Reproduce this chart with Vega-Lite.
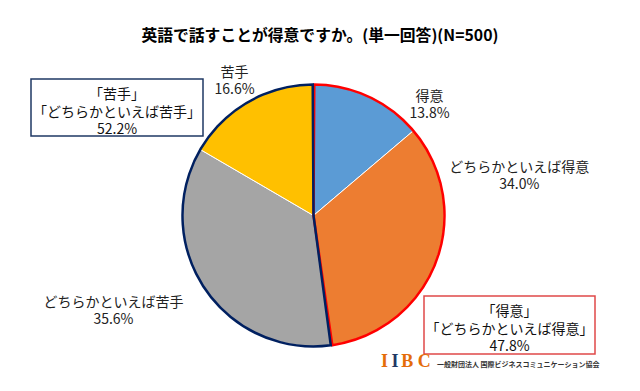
{
  "$schema": "https://vega.github.io/schema/vega-lite/v6.json",
  "background": "white",
  "padding": {"left": 30, "top": 28, "right": 10, "bottom": 8},
  "bounds": "flush",
  "spacing": 0,
  "title": {"text": "英語で話すことが得意ですか。(単一回答)(N=500)", "font": "Noto Sans CJK JP", "fontSize": 15.8, "fontWeight": "bold", "color": "#000000", "anchor": "middle", "offset": 21, "dx": 5},
  "config": {"view": {"stroke": null}, "font": "Noto Sans CJK JP"},
  "datasets": {
    "slices": [
      {"category": "得意", "value": 13.8, "order": 1, "label": "得意\n13.8%"},
      {"category": "どちらかといえば得意", "value": 34.0, "order": 2, "label": "どちらかといえば得意\n34.0%"},
      {"category": "どちらかといえば苦手", "value": 35.6, "order": 3, "label": "どちらかといえば苦手\n35.6%"},
      {"category": "苦手", "value": 16.6, "order": 4, "label": "苦手\n16.6%"}
    ],
    "groups": [
      {"group": "「得意」「どちらかといえば得意」", "value": 47.8, "order": 1},
      {"group": "「苦手」「どちらかといえば苦手」", "value": 52.2, "order": 2}
    ]
  },
  "hconcat": [
    {
      "width": 172,
      "height": 57,
      "view": {"stroke": "#1F3864", "strokeWidth": 1.5},
      "data": {"values": [{"text": "「苦手」\n「どちらかといえば苦手」\n52.2%"}]},
      "mark": {"type": "text", "fontSize": 14, "lineBreak": "\n", "lineHeight": 17.5, "baseline": "middle", "align": "center", "color": "#111111", "dy": -12.5},
      "encoding": {"text": {"field": "text", "type": "nominal"}}
    },
    {
      "width": 221,
      "height": 273,
      "layer": [
        {
          "data": {"name": "slices"},
          "mark": {"type": "arc", "outerRadius": 131, "stroke": "#ffffff", "strokeWidth": 1},
          "encoding": {
            "theta": {"field": "value", "type": "quantitative", "stack": true},
            "order": {"field": "order", "type": "quantitative"},
            "color": {"field": "category", "type": "nominal", "legend": null,
              "scale": {"domain": ["得意", "どちらかといえば得意", "どちらかといえば苦手", "苦手"], "range": ["#5B9BD5", "#ED7D31", "#A5A5A5", "#FFC000"]}}
          }
        },
        {
          "data": {"name": "groups"},
          "mark": {"type": "arc", "outerRadius": 131, "filled": false, "strokeWidth": 2.5, "padAngle": 0.012},
          "encoding": {
            "theta": {"field": "value", "type": "quantitative", "stack": true},
            "order": {"field": "order", "type": "quantitative"},
            "stroke": {"field": "group", "type": "nominal", "legend": null,
              "scale": {"domain": ["「得意」「どちらかといえば得意」", "「苦手」「どちらかといえば苦手」"], "range": ["#FF0000", "#002060"]}}
          }
        },
        {
          "data": {"name": "slices"},
          "transform": [{"stack": "value", "groupby": [], "sort": [{"field": "order", "order": "ascending"}], "as": ["v0", "v1"]}, {"filter": "datum.order === 1"}],
          "mark": {"type": "text", "radius": 150, "dx": 116, "dy": 31.5, "fontSize": 14, "lineBreak": "\n", "lineHeight": 17, "align": "center", "baseline": "middle", "color": "#222222"},
          "encoding": {
            "theta": {"field": "v0", "type": "quantitative", "stack": null},
            "text": {"field": "label", "type": "nominal"}
          }
        },
        {
          "data": {"name": "slices"},
          "transform": [{"stack": "value", "groupby": [], "sort": [{"field": "order", "order": "ascending"}], "as": ["v0", "v1"]}, {"filter": "datum.order === 2"}],
          "mark": {"type": "text", "radius": 150, "dx": 91.5, "dy": 49.25, "fontSize": 14, "lineBreak": "\n", "lineHeight": 17, "align": "center", "baseline": "middle", "color": "#222222"},
          "encoding": {
            "theta": {"field": "v0", "type": "quantitative", "stack": null},
            "text": {"field": "label", "type": "nominal"}
          }
        },
        {
          "data": {"name": "slices"},
          "transform": [{"stack": "value", "groupby": [], "sort": [{"field": "order", "order": "ascending"}], "as": ["v0", "v1"]}, {"filter": "datum.order === 3"}],
          "mark": {"type": "text", "radius": 150, "dx": -220.7, "dy": -61.25, "fontSize": 14, "lineBreak": "\n", "lineHeight": 17, "align": "center", "baseline": "middle", "color": "#222222"},
          "encoding": {
            "theta": {"field": "v0", "type": "quantitative", "stack": null},
            "text": {"field": "label", "type": "nominal"}
          }
        },
        {
          "data": {"name": "slices"},
          "transform": [{"stack": "value", "groupby": [], "sort": [{"field": "order", "order": "ascending"}], "as": ["v0", "v1"]}, {"filter": "datum.order === 4"}],
          "mark": {"type": "text", "radius": 150, "dx": 50.6, "dy": -66.75, "fontSize": 14, "lineBreak": "\n", "lineHeight": 17, "align": "center", "baseline": "middle", "color": "#222222"},
          "encoding": {
            "theta": {"field": "v0", "type": "quantitative", "stack": null},
            "text": {"field": "label", "type": "nominal"}
          }
        }
      ]
    },
    {
      "spacing": 0,
      "bounds": "flush",
      "vconcat": [
        {
          "width": 171,
          "height": 217,
          "data": {"values": [{"t": ""}]},
          "mark": {"type": "text"},
          "encoding": {"text": {"field": "t", "type": "nominal"}}
        },
        {
          "width": 171,
          "height": 58,
          "view": {"stroke": "#E04848", "strokeWidth": 1.5},
          "data": {"values": [{"text": "「得意」\n「どちらかといえば得意」\n47.8%"}]},
          "mark": {"type": "text", "fontSize": 14, "lineBreak": "\n", "lineHeight": 17.5, "baseline": "middle", "align": "center", "color": "#111111", "dy": -13},
          "encoding": {"text": {"field": "text", "type": "nominal"}}
        },
        {
          "width": 171,
          "height": 22,
          "data": {"values": [{"a": "I", "b": "I", "c": "B C", "org": "一般財団法人 国際ビジネスコミュニケーション協会"}]},
          "layer": [
            {"mark": {"type": "text", "font": "Liberation Serif", "fontWeight": "bold", "fontSize": 18, "color": "#E46C0A", "dx": -125, "dy": -3}, "encoding": {"text": {"field": "a", "type": "nominal"}}},
            {"mark": {"type": "text", "font": "Liberation Serif", "fontWeight": "bold", "fontSize": 18, "color": "#1F3864", "dx": -114.5, "dy": -3}, "encoding": {"text": {"field": "b", "type": "nominal"}}},
            {"mark": {"type": "text", "font": "Liberation Serif", "fontWeight": "bold", "fontSize": 18, "color": "#E46C0A", "dx": -93.5, "dy": -3}, "encoding": {"text": {"field": "c", "type": "nominal"}}},
            {"mark": {"type": "text", "fontSize": 7, "fontWeight": "bold", "align": "left", "dx": -72.5, "color": "#333333"}, "encoding": {"text": {"field": "org", "type": "nominal"}}}
          ]
        }
      ]
    }
  ]
}
